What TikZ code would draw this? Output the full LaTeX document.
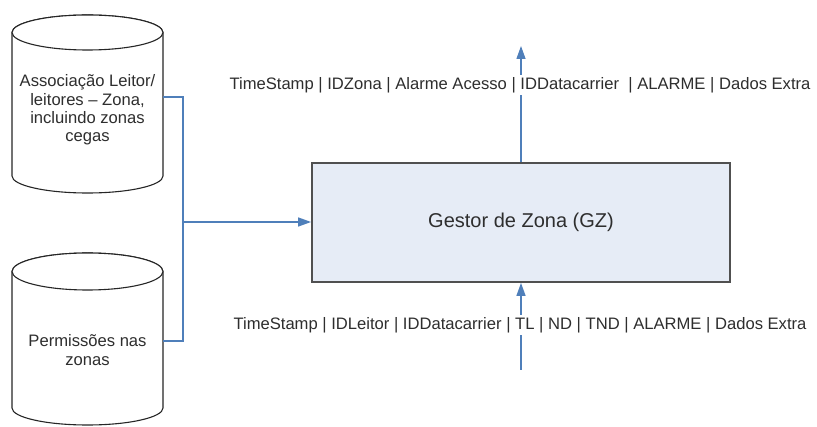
\documentclass[tikz,border=0pt]{standalone}
\usepackage{fontspec}
\setmainfont{Liberation Sans}
\usetikzlibrary{arrows.meta}
\definecolor{flowblue}{HTML}{4F7FBA}
\definecolor{boxfill}{HTML}{E6ECF6}
\definecolor{boxline}{HTML}{505050}
\definecolor{inktext}{HTML}{2E2E2E}
\tikzset{
  dbline/.style={draw=black!85, line width=1.1pt, fill=white},
  dbtext/.style={inner sep=0pt, align=center, text=inktext,
    font=\fontsize{16.6pt}{18.4pt}\selectfont},
  flow/.style={draw=flowblue, line width=1.3pt},
  flowarrow/.style={flow, -{Triangle[length=13pt,width=9pt]}},
  msglabel/.style={fill=white, inner xsep=0pt, inner ysep=2pt, text=inktext,
    font=\fontsize{16.6pt}{18pt}\selectfont},
  manager/.style={draw=boxline, line width=1.8pt, fill=boxfill, text=inktext,
    minimum width=418pt, minimum height=119pt, inner sep=0pt,
    font=\fontsize{20pt}{22pt}\selectfont}
}
\begin{document}
\begin{tikzpicture}[x=1pt,y=-1pt]
  \useasboundingbox (0,0) rectangle (817,427);

  % data store 1
  \draw[dbline] (12,32.5) -- (12,176)
    arc[start angle=180, end angle=360, x radius=75.5pt, y radius=17pt]
    -- (163,32.5)
    arc[start angle=0, end angle=180, x radius=75.5pt, y radius=17.5pt] -- cycle;
  \draw[dbline] (87.5,32.5) ellipse [x radius=75.5pt, y radius=17.5pt];
  \node[dbtext, minimum width=151pt] (db1) at (87.5,110)
    {Associação Leitor/\\leitores – Zona,\\incluindo zonas\\cegas};

  % data store 2
  \draw[dbline] (12,271.5) -- (12,408)
    arc[start angle=180, end angle=360, x radius=75.5pt, y radius=17pt]
    -- (163,271.5)
    arc[start angle=0, end angle=180, x radius=75.5pt, y radius=18.5pt] -- cycle;
  \draw[dbline] (87.5,271.5) ellipse [x radius=75.5pt, y radius=18.5pt];
  \node[dbtext, minimum width=151pt] (db2) at (87.5,350)
    {Permissões nas\\zonas};

  % zone manager
  \node[manager] (gz) at (521,222.5) {Gestor de Zona (GZ)};

  % inputs from the data stores
  \coordinate (j1) at (183,97);
  \coordinate (j2) at (183,341);
  \coordinate (jm) at (183,222);
  \draw[flow] (db1.east |- j1) -- (j1) -- (j2) -- (db2.east |- j2);
  \draw[flowarrow] (jm) -- (gz.west |- jm);

  % output of the manager
  \coordinate (outend) at (521,46);
  \draw[flowarrow] (gz.north) -- (outend);
  \node[msglabel] (outmsg) at (520,85)
    {TimeStamp | IDZona | Alarme Acesso | IDDatacarrier\ \ | ALARME | Dados Extra};

  % input from the readers
  \coordinate (inend) at (521,370);
  \draw[flowarrow] (inend) -- (gz.south);
  \node[msglabel] (inmsg) at (520,325)
    {TimeStamp | IDLeitor | IDDatacarrier | TL | ND | TND | ALARME | Dados Extra};
\end{tikzpicture}
\end{document}
